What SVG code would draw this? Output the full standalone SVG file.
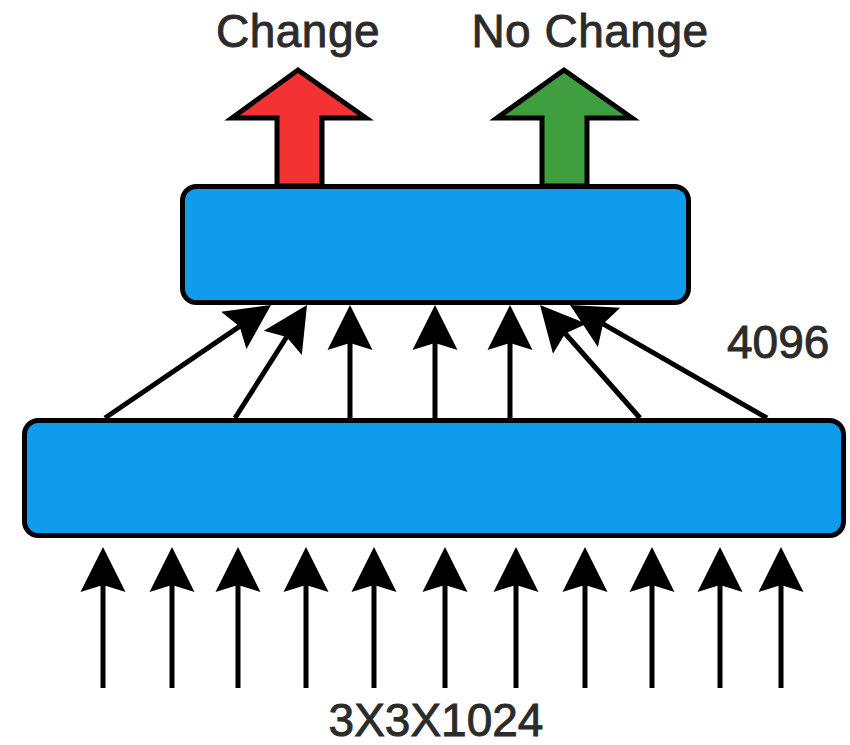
<svg xmlns="http://www.w3.org/2000/svg" width="850" height="745" viewBox="0 0 850 745">
  <style>
    .layer { fill: #0f9ced; stroke: #000; stroke-width: 5; }
    .out { stroke: #000; stroke-width: 5; stroke-linejoin: miter; }
    .link { stroke: #000; stroke-width: 5; fill: none; marker-end: url(#head); }
    .lbl { font-family: "Liberation Sans", Arial, sans-serif; font-size: 46px; fill: #2b2b2b; stroke: #2b2b2b; stroke-width: 0.9; }
  </style>
  <defs>
    <marker id="head" markerUnits="userSpaceOnUse" viewBox="0 -25 50 50" markerWidth="50" markerHeight="50" refX="7" refY="0" orient="auto">
      <path d="M45,0 L0,-22.5 L7,0 L0,22.5 Z" fill="#000"/>
    </marker>
  </defs>

  <rect width="850" height="745" fill="#fff"/>

  <!-- output arrows -->
  <g id="out-change">
    <polygon class="out" fill="#f33333" points="277,186 277,118 232,118 298,70 366,118 322,118 322,186"/>
    <text class="lbl" x="298" y="47" text-anchor="middle" letter-spacing="0.5">Change</text>
  </g>
  <g id="out-nochange">
    <polygon class="out" fill="#3f9f3f" points="542,186 542,118 497,118 564,70 632,118 587,118 587,186"/>
    <text class="lbl" x="590" y="47" text-anchor="middle" letter-spacing="0.5">No Change</text>
  </g>

  <!-- layers -->
  <g id="fc-top">
    <rect class="layer" x="182.5" y="186.5" width="506" height="116" rx="14"/>
  </g>
  <g id="fc-bottom">
    <rect class="layer" x="24.5" y="420.5" width="819" height="115" rx="14"/>
  </g>

  <!-- connectors -->
  <g id="connectors">
    <line class="link" x1="105" y1="418" x2="239.6" y2="326.4"/>
    <line class="link" x1="235" y1="418" x2="286.6" y2="337"/>
    <line class="link" x1="350" y1="418" x2="350" y2="343"/>
    <line class="link" x1="435" y1="418" x2="435" y2="343"/>
    <line class="link" x1="510" y1="418" x2="510" y2="343"/>
    <line class="link" x1="640" y1="418" x2="565.2" y2="333.5"/>
    <line class="link" x1="767" y1="418" x2="603" y2="323.9"/>

    <line class="link" x1="103" y1="688" x2="103" y2="585"/>
    <line class="link" x1="172" y1="688" x2="172" y2="585"/>
    <line class="link" x1="238" y1="688" x2="238" y2="585"/>
    <line class="link" x1="306" y1="688" x2="306" y2="585"/>
    <line class="link" x1="374" y1="688" x2="374" y2="585"/>
    <line class="link" x1="445" y1="688" x2="445" y2="585"/>
    <line class="link" x1="516" y1="688" x2="516" y2="585"/>
    <line class="link" x1="585" y1="688" x2="585" y2="585"/>
    <line class="link" x1="652" y1="688" x2="652" y2="585"/>
    <line class="link" x1="720" y1="688" x2="720" y2="585"/>
    <line class="link" x1="781" y1="688" x2="781" y2="585"/>
  </g>

  <!-- labels -->
  <g id="label-4096">
    <text class="lbl" x="727" y="358">4096</text>
  </g>
  <g id="label-input">
    <text class="lbl" x="436" y="736" font-size="44" text-anchor="middle">3X3X1024</text>
  </g>
</svg>
